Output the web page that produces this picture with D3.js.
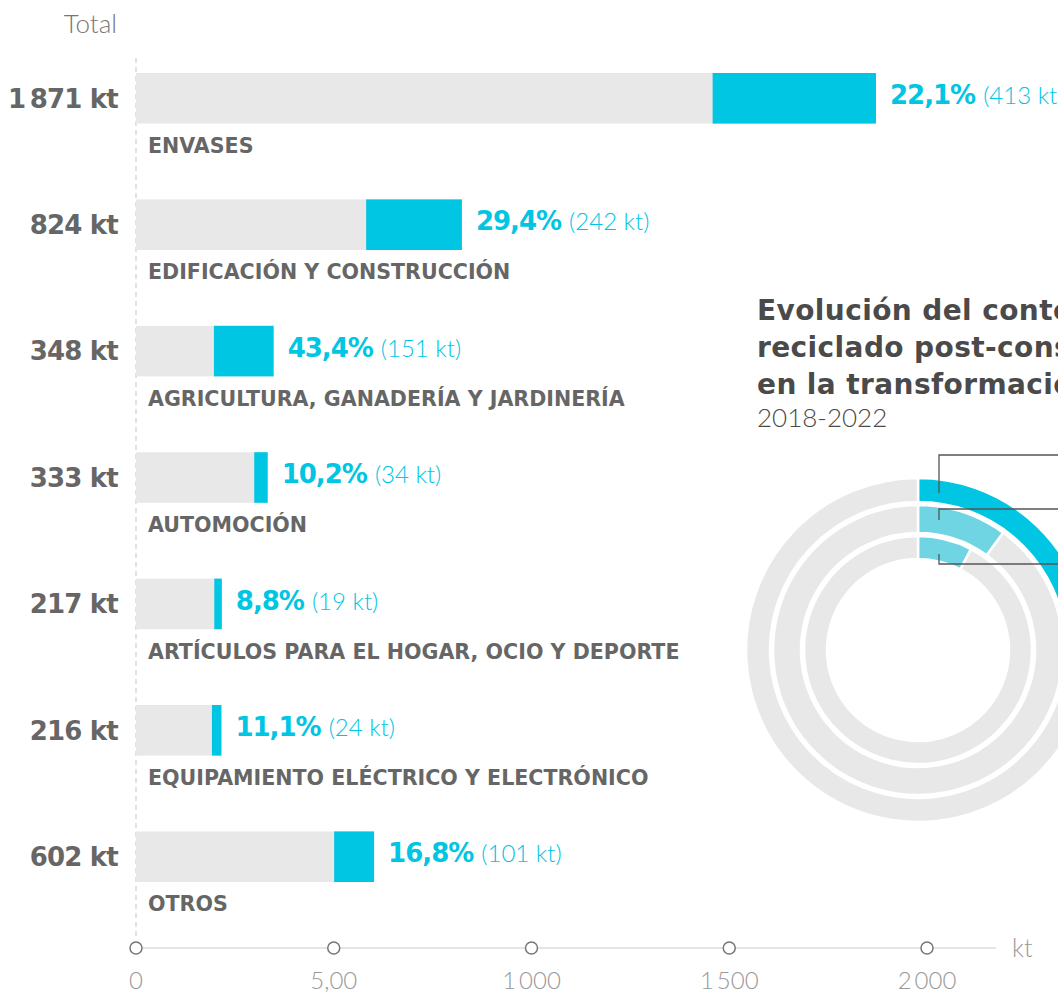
<!DOCTYPE html>
<html>
<head>
<meta charset="utf-8">
<script src="https://cdn.jsdelivr.net/npm/d3@7"></script>
<style>
  body { margin: 0; background: #fff; overflow: hidden; }
  svg { display: block; font-family: "DejaVu Sans", sans-serif; }
  .light { font-family: Lato, "Open Sans", sans-serif; font-weight: 300; }
</style>
</head>
<body>
<div id="chart"></div>
<script>
const categories = [
  "ENVASES",
  "EDIFICACIÓN Y CONSTRUCCIÓN",
  "AGRICULTURA, GANADERÍA Y JARDINERÍA",
  "AUTOMOCIÓN",
  "ARTÍCULOS PARA EL HOGAR, OCIO Y DEPORTE",
  "EQUIPAMIENTO ELÉCTRICO Y ELECTRÓNICO",
  "OTROS"
];
const totals = [1871, 824, 348, 333, 217, 216, 602];
const recycled = [413, 242, 151, 34, 19, 24, 101];
const shares = ["22,1%", "29,4%", "43,4%", "10,2%", "8,8%", "11,1%", "16,8%"];
const tickValues = [0, 500, 1000, 1500, 2000];
const tickLabels = ["0", "5,00", "1\u2009000", "1\u2009500", "2\u2009000"];

// donut rings, outer to inner (share of recycled content)
const ringShares = [0.223, 0.10, 0.077];

const fmtKt = (v) => d3.format(",")(v).replace(",", "\u2009") + " kt";

function createBarChart() {
  const width = 1058;
  const height = 995;
  const cyan = "#00c5e3";
  const grey = "#666";

  const svg = d3
    .select("#chart")
    .append("svg")
    .attr("width", width)
    .attr("height", height);

  const x = d3.scaleLinear().domain([0, 2000]).range([136, 927]);
  const y = d3.scaleBand().domain(categories).range([73, 882]).paddingInner(0.6).paddingOuter(0);

  const data = categories.map((c, i) => ({
    category: c,
    total: totals[i],
    recycled: recycled[i],
    share: shares[i]
  }));

  // "Total" header
  svg
    .append("text")
    .attr("class", "light")
    .attr("x", 117)
    .attr("y", 33)
    .attr("text-anchor", "end")
    .attr("font-size", "26px")
    .attr("fill", "#777")
    .text("Total");

  // dashed baseline
  svg
    .append("line")
    .attr("x1", x(0))
    .attr("x2", x(0))
    .attr("y1", 58)
    .attr("y2", 940)
    .attr("stroke", "#d0d0d0")
    .attr("stroke-width", 1.2)
    .attr("stroke-dasharray", "5,4");

  const rows = svg
    .selectAll("g.row")
    .data(data)
    .join("g")
    .attr("class", "row")
    .attr("transform", (d) => `translate(0, ${y(d.category)})`);

  const bh = y.bandwidth();

  rows
    .append("rect")
    .attr("x", x(0))
    .attr("y", 0)
    .attr("width", (d) => x(d.total) - x(0))
    .attr("height", bh)
    .attr("fill", "#e8e8e8");

  rows
    .append("rect")
    .attr("x", (d) => x(d.total - d.recycled))
    .attr("y", 0)
    .attr("width", (d) => x(d.total) - x(d.total - d.recycled))
    .attr("height", bh)
    .attr("fill", cyan);

  rows
    .append("text")
    .attr("x", 118)
    .attr("y", bh / 2)
    .attr("dy", "0.36em")
    .attr("text-anchor", "end")
    .attr("font-size", "26px")
    .attr("font-weight", "bold")
    .attr("letter-spacing", "-0.8px")
    .attr("fill", grey)
    .text((d) => fmtKt(d.total));

  rows
    .append("text")
    .attr("x", 148)
    .attr("y", bh + 22)
    .attr("dy", "0.36em")
    .attr("font-size", "20.6px")
    .attr("font-weight", "bold")
    .attr("fill", grey)
    .text((d) => d.category);

  const lbl = rows
    .append("text")
    .attr("x", (d) => x(d.total) + 14)
    .attr("y", bh / 2)
    .attr("dy", "0.36em")
    .attr("fill", cyan);

  lbl
    .append("tspan")
    .attr("font-size", "26px")
    .attr("font-weight", "bold")
    .attr("letter-spacing", "-1px")
    .text((d) => d.share);

  lbl
    .append("tspan")
    .attr("class", "light")
    .attr("font-size", "24px")
    .attr("dx", 8)
    .text((d) => `(${d.recycled} kt)`);

  // axis
  const axisY = 948;
  svg
    .append("line")
    .attr("x1", x(0))
    .attr("x2", 996)
    .attr("y1", axisY)
    .attr("y2", axisY)
    .attr("stroke", "#ddd")
    .attr("stroke-width", 1.5);

  const tick = svg
    .selectAll("g.tick")
    .data(tickValues)
    .join("g")
    .attr("class", "tick")
    .attr("transform", (d) => `translate(${x(d)}, ${axisY})`);

  tick
    .append("circle")
    .attr("r", 6)
    .attr("fill", "#fff")
    .attr("stroke", "#777")
    .attr("stroke-width", 1.5);

  tick
    .append("text")
    .attr("class", "light")
    .attr("y", 33)
    .attr("dy", "0.35em")
    .attr("text-anchor", "middle")
    .attr("font-size", "24px")
    .attr("fill", "#999")
    .text((d, i) => tickLabels[i]);

  svg
    .append("text")
    .attr("class", "light")
    .attr("x", 1012)
    .attr("y", axisY)
    .attr("dy", "0.36em")
    .attr("font-size", "25px")
    .attr("fill", "#999")
    .text("kt");

  // donut panel
  const title = svg
    .append("text")
    .attr("x", 757)
    .attr("font-size", "28px")
    .attr("font-weight", "bold")
    .attr("letter-spacing", "0.4px")
    .attr("fill", "#4a4a4a");
  ["Evolución del contenido", "reciclado post-consumo", "en la transformación"].forEach((t, i) => {
    title.append("tspan").attr("x", 757).attr("y", 320 + i * 37).text(t);
  });

  svg
    .append("text")
    .attr("class", "light")
    .attr("x", 757)
    .attr("y", 427)
    .attr("font-size", "26px")
    .attr("fill", "#4a4a4a")
    .text("2018-2022");

  const cx = 918;
  const cy = 650;
  const rings = [
    { inner: 148, outer: 172, color: cyan },
    { inner: 117, outer: 145, color: "#6fd5e2" },
    { inner: 91, outer: 114, color: "#6fd5e2" }
  ];

  const donut = svg.append("g").attr("transform", `translate(${cx}, ${cy})`);
  const pie = d3.pie().sort(null).value((d) => d);

  rings.forEach((r, i) => {
    const arc = d3.arc().innerRadius(r.inner).outerRadius(r.outer);
    donut
      .append("g")
      .selectAll("path")
      .data(pie([ringShares[i], 1 - ringShares[i]]))
      .join("path")
      .attr("d", arc)
      .attr("fill", (d, j) => (j === 0 ? r.color : "#e8e8e8"))
      .attr("stroke", "#fff")
      .attr("stroke-width", 2.5);
  });

  // leader lines
  const leaders = [
    { y0: 493, y1: 455 },
    { y0: 520, y1: 509 },
    { y0: 554, y1: 564 }
  ];
  leaders.forEach((l) => {
    svg
      .append("path")
      .attr("d", `M939,${l.y0}V${l.y1}H1060`)
      .attr("fill", "none")
      .attr("stroke", "#555")
      .attr("stroke-width", 1.3);
  });
}

createBarChart();
</script>
</body>
</html>
